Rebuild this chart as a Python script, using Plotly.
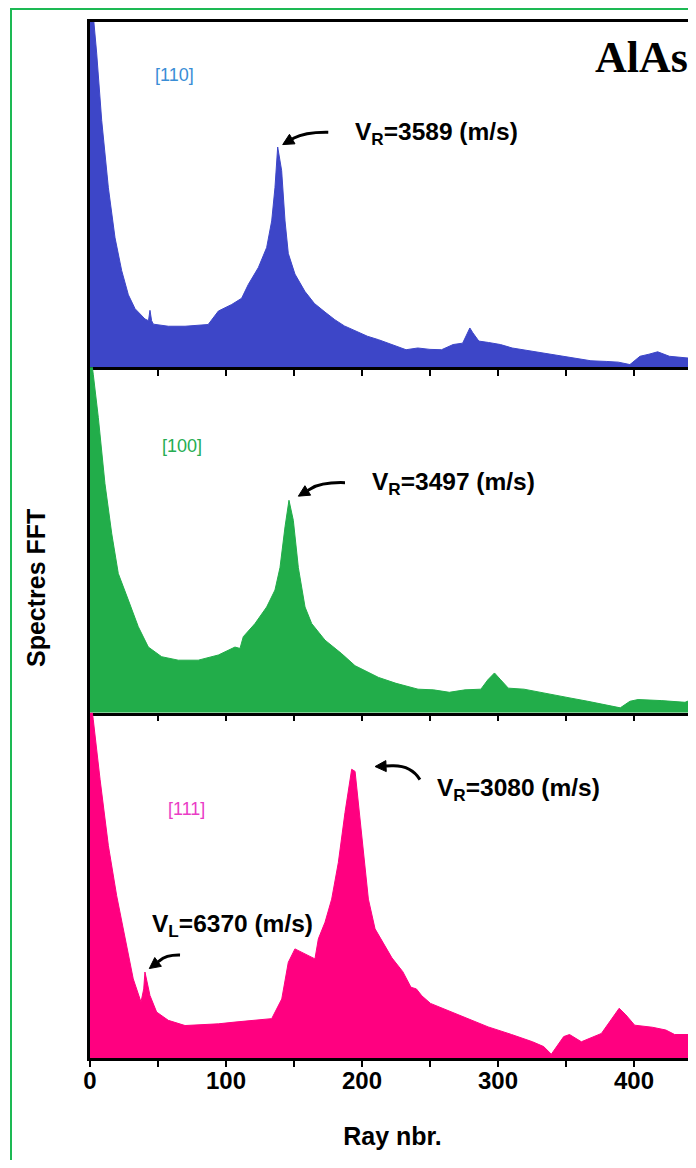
import math
import plotly.graph_objects as go

# ---------------- data (Ray nbr. vs normalised FFT amplitude) ----------------
ray_110 = [0, 2.4, 4.9, 8.6, 13.5, 18.4, 23.3, 28.2, 33.1, 40.4, 43.0, 44.1, 45.3, 46.6, 57.6, 69.9, 86.9,
           94.4, 104.2, 111.5, 116.4, 123.8, 129.9, 133.6, 136.0, 138.0, 140.9, 143.4, 145.8, 150.7, 158.0,
           165.0, 172.8, 180.0, 187.0, 194.9, 204.0, 212.2, 222.0, 232.4, 241.0, 250.0, 258.5, 267.0, 274.0,
           277.0, 279.3, 281.5, 285.9, 293.0, 301.8, 310.4, 325.0, 339.3, 355.0, 368.3, 380.0, 388.5, 397.0,
           404.4, 411.0, 417.4, 426.0, 435.0, 444.9]
amp_110 = [1.05, 1.02, 0.91, 0.715, 0.52, 0.375, 0.28, 0.21, 0.17, 0.14, 0.135, 0.165, 0.135, 0.125, 0.119,
           0.119, 0.124, 0.163, 0.182, 0.20, 0.24, 0.289, 0.347, 0.424, 0.52, 0.638, 0.57, 0.424, 0.33, 0.27,
           0.22, 0.185, 0.16, 0.138, 0.12, 0.105, 0.09, 0.08, 0.065, 0.051, 0.056, 0.052, 0.051, 0.066, 0.07,
           0.095, 0.114, 0.10, 0.076, 0.072, 0.066, 0.056, 0.047, 0.037, 0.028, 0.019, 0.017, 0.015, 0.008,
           0.032, 0.038, 0.045, 0.032, 0.028, 0.025]

ray_100 = [0, 2.4, 6.1, 11.0, 16.0, 20.8, 28.2, 35.5, 42.9, 52.7, 64.9, 79.6, 94.4, 106.6, 110.3, 112.7,
           121.3, 129.9, 136.0, 139.7, 143.4, 146.3, 149.5, 153.2, 158.1, 163.0, 172.8, 185.0, 194.9, 212.2,
           225.0, 241.2, 252.6, 264.2, 275.7, 287.4, 292.5, 297.4, 302.0, 307.6, 319.1, 336.5, 353.7, 366.0,
           379.8, 389.9, 397.0, 403.0, 420.0, 431.8, 437.5, 444.9]
amp_100 = [1.05, 0.98, 0.855, 0.663, 0.518, 0.403, 0.326, 0.249, 0.19, 0.162, 0.152, 0.152, 0.167, 0.19,
           0.186, 0.22, 0.258, 0.306, 0.355, 0.42, 0.538, 0.615, 0.557, 0.42, 0.306, 0.258, 0.21, 0.171,
           0.136, 0.102, 0.085, 0.068, 0.066, 0.059, 0.066, 0.068, 0.095, 0.115, 0.095, 0.071, 0.068, 0.056,
           0.042, 0.033, 0.023, 0.014, 0.033, 0.038, 0.035, 0.033, 0.03, 0.042]

ray_111 = [0, 2.4, 7.4, 13.5, 19.6, 25.7, 31.8, 37.5, 39.5, 40.4, 42.0, 44.1, 49.0, 57.6, 69.9, 94.4, 106.6,
           118.9, 133.6, 141.0, 145.8, 150.7, 158.1, 165.4, 167.9, 172.8, 177.7, 182.6, 187.5, 192.4, 194.9,
           199.8, 204.7, 209.6, 216.9, 222.0, 230.0, 236.0, 240.0, 244.0, 250.4, 276.5, 292.8, 310.0, 325.4,
           333.6, 339.2, 348.3, 352.6, 361.3, 376.0, 383.0, 389.1, 394.0, 400.5, 413.6, 423.4, 429.9, 444.6]
amp_111 = [1.05, 0.98, 0.807, 0.615, 0.47, 0.345, 0.229, 0.162, 0.2, 0.249, 0.22, 0.181, 0.133, 0.109,
           0.094, 0.099, 0.104, 0.109, 0.114, 0.171, 0.277, 0.316, 0.301, 0.287, 0.345, 0.393, 0.46, 0.566,
           0.711, 0.836, 0.83, 0.634, 0.46, 0.374, 0.326, 0.29, 0.25, 0.205, 0.2, 0.18, 0.158, 0.115, 0.09,
           0.068, 0.047, 0.033, 0.011, 0.062, 0.068, 0.047, 0.071, 0.11, 0.144, 0.125, 0.095, 0.089, 0.081,
           0.068, 0.068]

tick_vals = [0, 100, 200, 300, 400]
tick_text = ["<b>0</b>", "<b>100</b>", "<b>200</b>", "<b>300</b>", "<b>400</b>"]

panel_labels = ["[110]", "[100]", "[111]"]
velocity_labels = ["V<sub>R</sub>=3589 (m/s)", "V<sub>R</sub>=3497 (m/s)",
                   "V<sub>R</sub>=3080 (m/s)", "V<sub>L</sub>=6370 (m/s)"]

FILL_COLORS = ["#3d46c8", "#22ad4a", "#ff0080"]
LABEL_COLORS = ["#3a8ed6", "#26ad52", "#ea3cc6"]
FONT = "Liberation Sans, Arial, sans-serif"

# page body has an 8px margin; figure sized so the plot sits where the reference has it
W, H = 688, 1152
ML, MR, MT, MB = 82, 1, 14, 102
XR = [0, 444.85]
PW = W - ML - MR
PH = H - MT - MB
SX = PW / (XR[1] - XR[0])          # px per x unit
SY = PH / 3.0                      # px per y unit (each panel range 0..1)

fig = go.Figure()
series = [(ray_110, amp_110), (ray_100, amp_100), (ray_111, amp_111)]
axis_ids = [("x", "y"), ("x2", "y2"), ("x3", "y3")]
for (xs, ys), (xa, ya), col in zip(series, axis_ids, FILL_COLORS):
    fig.add_trace(go.Scatter(x=xs, y=ys, mode="lines", fill="tozeroy", fillcolor=col,
                             line=dict(color=col, width=1), xaxis=xa, yaxis=ya,
                             showlegend=False, hoverinfo="skip"))

domains = [[2 / 3, 1.0], [1 / 3, 2 / 3], [0.0, 1 / 3]]
for i, dom in enumerate(domains):
    sfx = "" if i == 0 else str(i + 1)
    fig.layout["xaxis" + sfx] = dict(
        domain=[0, 1], range=XR, anchor="y" + sfx, showgrid=False, zeroline=False,
        showline=True, linecolor="black", linewidth=2.5, mirror=(i == 0),
        ticks="outside", ticklen=6, tickwidth=2, tickcolor="black",
        tickmode="array", tickvals=tick_vals, ticktext=tick_text,
        minor=dict(dtick=50, tick0=0, ticks="outside", ticklen=6, tickwidth=2, tickcolor="black",
                   showgrid=False),
        showticklabels=(i == 2), ticklabelstandoff=-7,
        tickfont=dict(family=FONT, size=24, color="black"))
    fig.layout["yaxis" + sfx] = dict(
        domain=dom, range=[0, 1], anchor="x" + sfx, showgrid=False, zeroline=False,
        showline=True, linecolor="black", linewidth=3, showticklabels=False, ticks="")

fig.layout.xaxis3.title = dict(text="<b>Ray nbr.</b>", font=dict(family=FONT, size=25, color="black"),
                               standoff=35)

ann = []
for (xa, ya), txt, col, (px, py) in zip(axis_ids, panel_labels, LABEL_COLORS,
                                       [(62.1, 0.846), (68.0, 0.772), (71.0, 0.72)]):
    ann.append(dict(x=px, y=py, xref=xa, yref=ya, text=txt, showarrow=False,
                    font=dict(family=FONT, size=18, color=col)))
ann.append(dict(x=441.0, y=0.898, xref="x", yref="y", text="<b>AlAs</b>", showarrow=False,
                xanchor="right", font=dict(family="Liberation Serif, Times New Roman, serif",
                                           size=44, color="black")))
vel_pos = [("x", "y", 193.4, 0.677), ("x2", "y2", 205.9, 0.665),
           ("x3", "y3", 253.7, 0.777), ("x3", "y3", 44.1, 0.384)]
for (xa, ya, px, py), txt in zip(vel_pos, velocity_labels):
    ann.append(dict(x=px, y=py, xref=xa, yref=ya, text="<b>" + txt + "</b>", showarrow=False,
                    xanchor="left", font=dict(family=FONT, size=24.5, color="black")))

ann.append(dict(x=-(90 - 36) / PW, y=(1058 - 588) / PH, xref="paper", yref="paper",
                xanchor="center", yanchor="middle",
                text="<b>Spectres FFT</b>", textangle=-90, showarrow=False,
                font=dict(family=FONT, size=25, color="black")))

# curved arrows drawn as shapes: tail curve + filled arrowhead
arrows = [
    ("x", "y", (175.2, 0.681), (158.0, 0.682), (150.0, 0.664), (141.7, 0.645)),
    ("x2", "y2", (187.5, 0.666), (170.0, 0.668), (162.0, 0.648), (153.2, 0.627)),
    ("x3", "y3", (242.6, 0.806), (236.0, 0.848), (222.0, 0.846), (209.6, 0.844)),
    ("x3", "y3", (66.2, 0.298), (56.0, 0.299), (51.0, 0.281), (43.6, 0.259)),
]
shapes = []
L_HEAD, W_HEAD = 11.0, 11.0
for xa, ya, t, c, m, h in arrows:
    dx = (h[0] - m[0]) * SX
    dy = (h[1] - m[1]) * SY
    n = math.hypot(dx, dy)
    ux, uy = dx / n, dy / n
    bx, by = h[0] - L_HEAD * ux / SX, h[1] - L_HEAD * uy / SY
    p1 = (bx + (W_HEAD / 2) * (-uy) / SX, by + (W_HEAD / 2) * ux / SY)
    p2 = (bx - (W_HEAD / 2) * (-uy) / SX, by - (W_HEAD / 2) * ux / SY)
    shapes.append(dict(type="path", xref=xa, yref=ya,
                       path=f"M {t[0]},{t[1]} Q {c[0]},{c[1]} {m[0]},{m[1]} L {bx},{by}",
                       line=dict(color="black", width=3)))
    shapes.append(dict(type="path", xref=xa, yref=ya,
                       path=f"M {h[0]},{h[1]} L {p1[0]},{p1[1]} L {p2[0]},{p2[1]} Z",
                       line=dict(color="black", width=1), fillcolor="black"))

shapes.append(dict(type="line", xref="paper", yref="paper", x0=1 - 1 / PW, x1=1 - 1 / PW, y0=0, y1=1,
                   line=dict(color="#888888", width=1.5)))
shapes.append(dict(type="rect", xref="paper", yref="paper",
                   x0=(11 - 90) / PW, x1=1.3, y0=-0.3, y1=(1058 - 9) / PH,
                   line=dict(color="#1db954", width=2), fillcolor="rgba(0,0,0,0)", layer="below"))

fig.update_layout(width=W, height=H, margin=dict(l=ML, r=MR, t=MT, b=MB),
                  paper_bgcolor="white", plot_bgcolor="white",
                  annotations=ann, shapes=shapes, showlegend=False)

fig.write_html("out.html")
